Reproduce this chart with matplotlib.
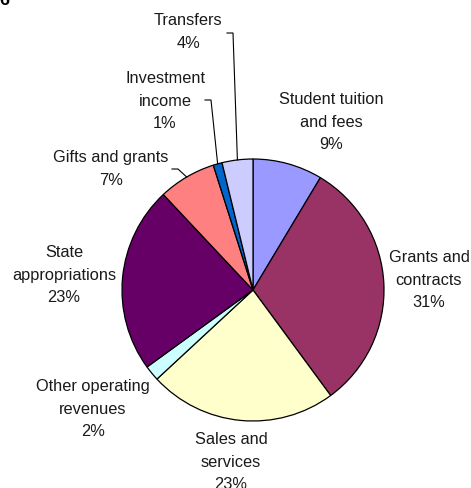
import numpy as np
import matplotlib.pyplot as plt

# revenue shares, clockwise from 12 o'clock
categories = ["Student tuition\nand fees", "Grants and\ncontracts", "Sales and\nservices",
              "Other operating\nrevenues", "State\nappropriations", "Gifts and grants",
              "Investment\nincome", "Transfers"]
shares = [8.6, 31.3, 23.2, 1.9, 23.0, 7.1, 1.1, 3.8]
colors = ["#9999FF", "#993366", "#FFFFCC", "#CCFFFF", "#660066", "#FF8080", "#0066CC", "#CCCCFF"]

W, H = 471, 489
plt.rcParams['font.family'] = ['Liberation Sans', 'DejaVu Sans']

fig = plt.figure(figsize=(W / 100, H / 100), dpi=100)
ax = fig.add_axes([0, 0, 1, 1])

cx, cy, R = 253, H - 291, 131
wedges, _ = ax.pie(shares, colors=colors, startangle=90, counterclock=False,
                   center=(cx, cy), radius=R, frame=True,
                   wedgeprops=dict(edgecolor='black', linewidth=0.9))
ax.set_xlim(0, W)
ax.set_ylim(0, H)
ax.set_aspect('equal')
ax.axis('off')

# label centres (x, top-line y) in pixels from the top left
label_pos = [(331, 100), (429, 258), (231, 440), (93, 387),
             (64, 253), (111, 158), (165, 79), (188, 21)]
LS = 22.5
for name, val, (lx, ly) in zip(categories, shares, label_pos):
    lines = name.split("\n") + [f"{round(val):d}%"]
    for k, s in enumerate(lines):
        ax.text(lx, H - (ly + k * LS), s, ha='center', va='center',
                fontsize=11.8, color='#1a1a1a')

def edge_point(w):
    mid = np.deg2rad((w.theta1 + w.theta2) / 2)
    return cx + R * np.cos(mid), cy + R * np.sin(mid)

# leader lines for the small slices at the top
leaders = {5: [(172, 170), (178, 170)], 6: [(205, 101), (211, 101)], 7: [(227, 34), (233, 34)]}
for i, pts in leaders.items():
    ex, ey = edge_point(wedges[i])
    xs = [p[0] for p in pts] + [ex]
    ys = [H - p[1] for p in pts] + [ey]
    ax.plot(xs, ys, color='black', lw=0.8)

# clipped panel letter in the corner
ax.text(-1, H - 5, "6", fontsize=13, fontweight='bold', ha='left', va='baseline')

fig.savefig("out.png", dpi=100)
